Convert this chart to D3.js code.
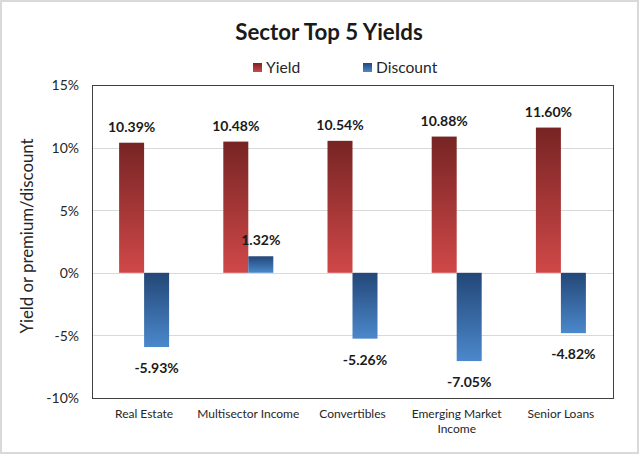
<!DOCTYPE html>
<html>
<head>
<meta charset="utf-8">
<script src="https://cdn.jsdelivr.net/npm/d3@7"></script>
<style>
  html, body { margin: 0; padding: 0; background: #fff; }
  svg { display: block; }
  text { font-family: Lato, "Open Sans", sans-serif; }
</style>
</head>
<body>
<svg id="chart" width="640" height="456"></svg>
<script>
const categories = ["Real Estate", "Multisector Income", "Convertibles", "Emerging Market Income", "Senior Loans"];
const categoryLines = [["Real Estate"], ["Multisector Income"], ["Convertibles"], ["Emerging Market", "Income"], ["Senior Loans"]];
const seriesNames = ["Yield", "Discount"];
const yieldValues = [10.39, 10.48, 10.54, 10.88, 11.60];
const discountValues = [-5.93, 1.32, -5.26, -7.05, -4.82];
const yTicks = [-10, -5, 0, 5, 10, 15];

const svg = d3.select("#chart");
const plot = { left: 92, right: 613, top: 85, bottom: 398 };

// outer border
svg.append("rect").attr("x", 1).attr("y", 1).attr("width", 637).attr("height", 452)
  .attr("fill", "#fff").attr("stroke", "#d9d9d9").attr("stroke-width", 2);

// gradients
const defs = svg.append("defs");
function grad(id, top, bottom) {
  const g = defs.append("linearGradient").attr("id", id)
    .attr("x1", 0).attr("y1", 0).attr("x2", 0).attr("y2", 1);
  g.append("stop").attr("offset", "0%").attr("stop-color", top);
  g.append("stop").attr("offset", "100%").attr("stop-color", bottom);
}
grad("gYield", "#772424", "#d04848");
grad("gDisc", "#234777", "#4b88cc");

const x = d3.scaleBand().domain(categories).range([plot.left, plot.right]).paddingInner(0).paddingOuter(0);
const x1 = d3.scaleBand().domain(seriesNames).range([0, 50]);
const y = d3.scaleLinear().domain([-10, 15]).range([plot.bottom, plot.top]);

// gridlines
svg.append("g").selectAll("line").data(yTicks.filter(t => t !== -10 && t !== 15)).join("line")
  .attr("x1", plot.left).attr("x2", plot.right)
  .attr("y1", d => Math.round(y(d)) + 0.5).attr("y2", d => Math.round(y(d)) + 0.5)
  .attr("stroke", "#d9d9d9").attr("stroke-width", 1);

// frame
svg.append("rect").attr("x", plot.left + 0.5).attr("y", plot.top + 0.5)
  .attr("width", plot.right - plot.left).attr("height", plot.bottom - plot.top)
  .attr("fill", "none").attr("stroke", "#404040").attr("stroke-width", 1);

// y axis
const yAxis = d3.axisLeft(y).tickValues(yTicks).tickFormat(d => d + "%").tickSize(0).tickPadding(0);
const ya = svg.append("g").attr("transform", `translate(79,0)`).call(yAxis);
ya.select(".domain").remove();
ya.selectAll("text").attr("font-size", 14).attr("fill", "#262626")
  .style("font-family", "Lato, sans-serif").attr("dy", "0.35em");

// y title
svg.append("text").attr("transform", "translate(33,236) rotate(-90)")
  .attr("text-anchor", "middle").attr("font-size", 16.8).attr("fill", "#262626")
  .text("Yield or premium/discount");

// bars
const data = categories.map((c, i) => ({ c, i, vals: [yieldValues[i], discountValues[i]] }));
const groups = svg.append("g").selectAll("g").data(data).join("g")
  .attr("transform", d => `translate(${x(d.c) + x.bandwidth() / 2 - 25},0)`);

groups.selectAll("rect").data(d => d.vals.map((v, k) => ({ v, s: seriesNames[k] }))).join("rect")
  .attr("x", d => x1(d.s)).attr("width", x1.bandwidth())
  .attr("y", d => Math.min(y(d.v), y(0)))
  .attr("height", d => Math.abs(y(d.v) - y(0)))
  .attr("fill", d => d.s === "Yield" ? "url(#gYield)" : "url(#gDisc)");

// labels
groups.selectAll("text.lbl").data(d => d.vals.map((v, k) => ({ v, s: seriesNames[k] }))).join("text")
  .attr("class", "lbl")
  .attr("x", d => x1(d.s) + x1.bandwidth() / 2)
  .attr("y", d => d.v >= 0 ? y(d.v) - 11 : y(d.v) + 26)
  .attr("text-anchor", "middle").attr("font-size", 14).attr("font-weight", "bold").attr("fill", "#1a1a1a")
  .text(d => d.v.toFixed(2) + "%");

// x labels
const xl = svg.append("g").selectAll("text").data(categories).join("text")
  .attr("x", d => x(d) + x.bandwidth() / 2).attr("y", 418)
  .attr("text-anchor", "middle").attr("font-size", 12).attr("fill", "#262626");
xl.each(function (d, i) {
  const t = d3.select(this);
  categoryLines[i].forEach((line, j) => {
    t.append("tspan").attr("x", x(d) + x.bandwidth() / 2).attr("dy", j === 0 ? 0 : 15).text(line);
  });
});

// title
svg.append("text").attr("x", 329).attr("y", 40).attr("text-anchor", "middle")
  .attr("font-size", 22.3).attr("font-weight", "bold").attr("fill", "#1a1a1a")
  .text("Sector Top 5 Yields");

// legend
const legendX = [253, 363];
const lg = svg.append("g").selectAll("g").data(seriesNames).join("g")
  .attr("transform", (d, i) => `translate(${legendX[i]},63)`);
lg.append("rect").attr("width", 9).attr("height", 9)
  .attr("fill", (d) => d === "Yield" ? "url(#gYield)" : "url(#gDisc)");
lg.append("text").attr("x", 13).attr("y", 9.5).attr("font-size", 15.6).attr("fill", "#262626").text(d => d);
</script>
</body>
</html>
